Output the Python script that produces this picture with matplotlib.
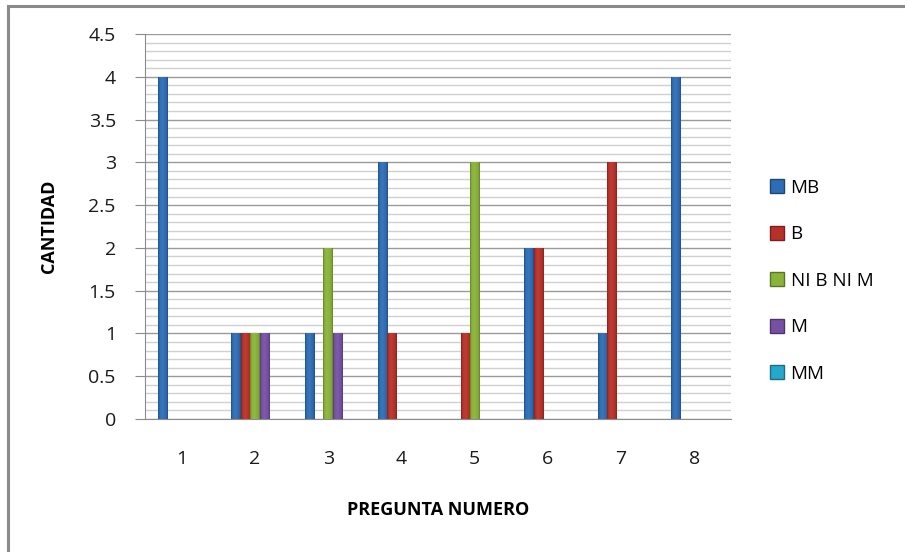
import numpy as np
import matplotlib
matplotlib.use("Agg")
import matplotlib.pyplot as plt
from matplotlib.patches import Rectangle, Patch
from matplotlib.colors import to_rgb
from matplotlib.ticker import MultipleLocator

plt.rcParams['font.family'] = ['Open Sans', 'DejaVu Sans']

preguntas = ["1", "2", "3", "4", "5", "6", "7", "8"]
series = ["MB", "B", "NI B NI M", "M", "MM"]
mb = [4, 1, 1, 3, 0, 2, 1, 4]
b = [0, 1, 0, 1, 1, 2, 3, 0]
ni = [0, 1, 2, 0, 3, 0, 0, 0]
m = [0, 1, 1, 0, 0, 0, 0, 0]
mm = [0, 0, 0, 0, 0, 0, 0, 0]
values = [mb, b, ni, m, mm]
colors = ["#2E6DB5", "#B83129", "#8AB33A", "#7651A3", "#26A7CC"]

fig = plt.figure(figsize=(9.05, 5.52), dpi=100)
ax = fig.add_axes([145 / 905, 1 - 419 / 552, (731 - 145) / 905, (419 - 34) / 552])

# outer chart frame
fig.patches.append(Rectangle((8 / 905, -0.1), 1.2, 0.1 + (552 - 6) / 552,
                             transform=fig.transFigure, fill=False,
                             edgecolor="#8a8a8a", linewidth=2.2, zorder=0))

x = np.arange(len(preguntas))
w = 0.128


def shade(c, f):
    r = np.array(to_rgb(c))
    if f >= 0:
        return r + (1 - r) * f
    return r * (1 + f)


def gradient_row(col, n=60):
    stops = np.array([0.0, 0.15, 0.45, 0.85, 1.0])
    rgb = np.array([shade(col, -0.3), shade(col, 0.0), shade(col, 0.06),
                    shade(col, -0.05), shade(col, -0.3)])
    t = np.linspace(0, 1, n)
    row = np.stack([np.interp(t, stops, rgb[:, k]) for k in range(3)], axis=1)
    return row[None, :, :]


for i, (name, vals, col) in enumerate(zip(series, values, colors)):
    pos = x + (i - 2) * w
    bars = ax.bar(pos, vals, width=w, color=col, edgecolor="none",
                  label=name, zorder=3)
    grad = gradient_row(col)
    for bar in bars:
        h = bar.get_height()
        if h <= 0:
            continue
        x0 = bar.get_x()
        im = ax.imshow(grad, extent=[x0, x0 + w, 0, h], aspect="auto",
                       zorder=3.5, interpolation="bilinear")
        im.set_clip_path(bar)

ax.set_xlim(-0.5, len(preguntas) - 0.5)
ax.set_ylim(0, 4.5)
ax.set_xticks(x)
ax.set_xticklabels(preguntas)
ax.yaxis.set_minor_locator(MultipleLocator(0.1))
ax.set_yticks(np.arange(0, 4.51, 0.5))
ax.set_yticklabels([f"{v:g}" for v in np.arange(0, 4.51, 0.5)])

ax.grid(axis="y", which="major", color="#9a9a9a", linewidth=1.0, zorder=0)
ax.grid(axis="y", which="minor", color="#d0d0d0", linewidth=1.0, zorder=0)
ax.set_axisbelow(True)

for s in ["top", "right"]:
    ax.spines[s].set_visible(False)
ax.spines["left"].set_color("#8c8c8c")
ax.spines["bottom"].set_color("#8c8c8c")

ax.tick_params(axis="y", which="major", length=7, color="#8c8c8c",
               labelsize=14, pad=14, labelcolor="#1a1a1a")
ax.tick_params(axis="y", which="minor", length=0)
ax.tick_params(axis="x", length=0, labelsize=14, pad=22, labelcolor="#1a1a1a")

ax.set_ylabel("CANTIDAD", fontsize=13, fontweight="bold", labelpad=22)
ax.set_xlabel("PREGUNTA NUMERO", fontsize=13, fontweight="bold", labelpad=24)

handles = [Patch(facecolor=c, edgecolor=shade(c, -0.35), label=n)
           for n, c in zip(series, colors)]
fig.legend(handles=handles, loc="upper left",
           bbox_to_anchor=(753 / 905, 1 - 162 / 552), frameon=False,
           fontsize=13.5, handlelength=0.75, handleheight=0.75,
           handletextpad=0.35, labelspacing=1.52)

fig.savefig("out.png", dpi=100, facecolor="white")
